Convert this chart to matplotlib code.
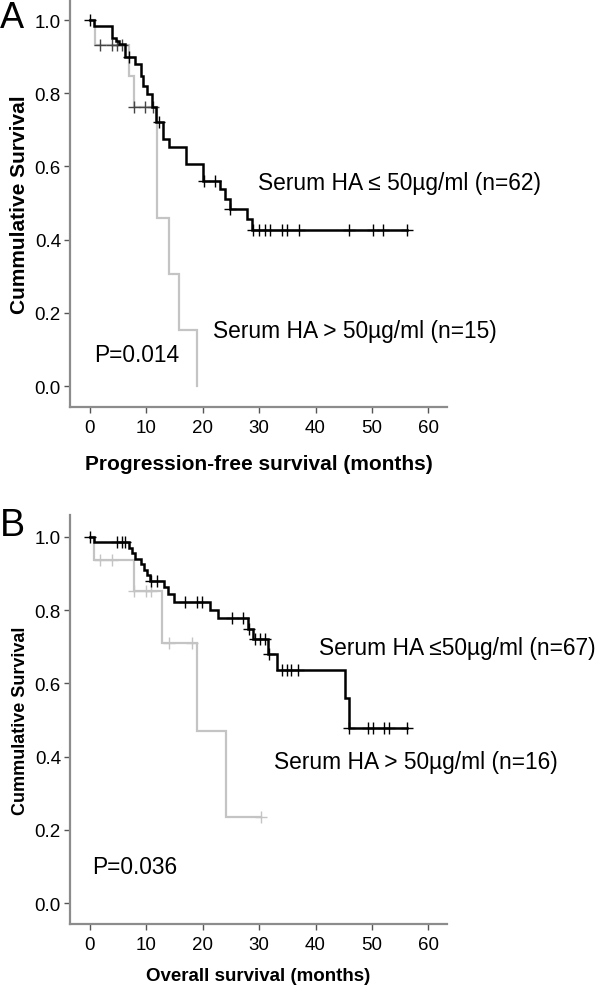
import numpy as np
import matplotlib
matplotlib.use('Agg')
import matplotlib.pyplot as plt

plt.rcParams['font.family'] = ['Liberation Sans', 'DejaVu Sans']

# Panel A - progression-free survival
pfs_low_t = [0, 0.8, 4.0, 4.6, 5.2, 6.3, 8.1, 9.0, 9.5, 10.2, 11.1, 11.8, 13.0, 14.0, 17.0, 20.0, 23.1, 24.0, 24.9, 27.8, 28.7]
pfs_low_s = [1.0, 0.984, 0.952, 0.944, 0.935, 0.898, 0.880, 0.848, 0.820, 0.798, 0.762, 0.721, 0.675, 0.652, 0.607, 0.561, 0.538, 0.511, 0.484, 0.456, 0.427]
pfs_low_end = 56.3
pfs_low_cens = [0.1, 6.9, 12.2, 20.2, 22.2, 24.9, 29.0, 30.0, 31.0, 32.0, 34.0, 35.0, 37.1, 46.0, 50.1, 52.0, 56.3]

pfs_high_t = [0, 1.0, 7.0, 7.8, 12.0, 14.0, 15.9, 19.0]
pfs_high_s = [1.0, 0.933, 0.848, 0.762, 0.458, 0.305, 0.153, 0.0]
pfs_high_end = 19.0
pfs_high_cens = [1.9, 4.0, 4.9, 5.8, 7.8, 9.8, 11.2]

# Panel B - overall survival
os_low_t = [0, 0.76, 6.9, 7.5, 8.1, 9.1, 9.6, 10.2, 10.7, 13.1, 13.8, 14.9, 21.3, 22.8, 28.1, 28.9, 31.5, 33.1, 45.2, 46.0]
os_low_s = [1.0, 0.985, 0.970, 0.955, 0.940, 0.925, 0.910, 0.895, 0.880, 0.862, 0.843, 0.823, 0.800, 0.778, 0.750, 0.722, 0.681, 0.638, 0.561, 0.478]
os_low_end = 56.3
os_low_cens = [0.1, 4.9, 5.8, 6.3, 10.8, 11.9, 16.9, 19.0, 19.9, 25.2, 27.2, 28.3, 29.3, 30.2, 31.0, 31.7,
               34.0, 34.9, 35.7, 36.9, 46.0, 49.3, 50.1, 52.2, 53.1, 56.3]

os_high_t = [0, 0.76, 7.8, 12.8, 19.0, 24.2]
os_high_s = [1.0, 0.9375, 0.852, 0.71, 0.47, 0.235]
os_high_end = 30.3
os_high_cens = [1.9, 4.0, 7.9, 9.9, 10.8, 14.0, 18.1, 30.3]

xticks = [0, 10, 20, 30, 40, 50, 60]
yticks = [0.0, 0.2, 0.4, 0.6, 0.8, 1.0]

BLACK = '#000000'
GREY = '#c4c4c4'
SPINE = '#8c8c8c'


def km(ax, t, s, end, cens, color, lw, ccolor):
    xs = list(t) + [end]
    ys = list(s) + [s[-1]]
    ax.step(xs, ys, where='post', color=color, lw=lw, solid_joinstyle='miter')
    idx = np.searchsorted(t, cens, side='right') - 1
    cy = np.array(s)[idx]
    ax.plot(cens, cy, ls='none', marker='+', ms=8, mew=1.0, color=ccolor)


def style(ax, ylim_top, ylab_size, xlab, xlab_size, xlab_y):
    ax.set_xlim(-3.5, 63.3)
    ax.set_ylim(-0.057, ylim_top)
    ax.set_xticks(xticks)
    ax.set_yticks(yticks)
    ax.set_yticklabels(['%.1f' % v for v in yticks])
    for side in ['top', 'right']:
        ax.spines[side].set_visible(False)
    for side in ['left', 'bottom']:
        ax.spines[side].set_color(SPINE)
        ax.spines[side].set_linewidth(1.6)
    ax.tick_params(axis='both', direction='out', length=4.5, width=1.0, color='#555555',
                   labelsize=13.5, pad=2)
    ax.tick_params(axis='x', pad=4)
    ax.set_ylabel('Cummulative Survival', fontsize=ylab_size, fontweight='bold')
    ax.yaxis.set_label_coords(-0.11, 0.5)
    ax.set_xlabel(xlab, fontsize=xlab_size, fontweight='bold')
    ax.xaxis.label.set_va('center')
    ax.xaxis.set_label_coords(0.5, xlab_y)


fig = plt.figure(figsize=(6, 9.87), dpi=100)

# Panel A
axA = fig.add_axes([70 / 600, 1 - 408 / 987, 377 / 600, 406 / 987])
km(axA, pfs_high_t, pfs_high_s, pfs_high_end, pfs_high_cens, GREY, 1.6, '#444444')
km(axA, pfs_low_t, pfs_low_s, pfs_low_end, pfs_low_cens, BLACK, 1.8, BLACK)
style(axA, 1.052, 15, 'Progression-free survival (months)', 15, -0.14)
axA.text(29.8, 0.557, 'Serum HA \u2264 50\u00b5g/ml (n=62)', fontsize=16.4, va='center', ha='left')
axA.text(21.9, 0.151, 'Serum HA > 50\u00b5g/ml (n=15)', fontsize=16.4, va='center', ha='left')
axA.text(0.7, 0.087, 'P=0.014', fontsize=16.4, va='center', ha='left')

# Panel B
axB = fig.add_axes([70 / 600, 1 - 925 / 987, 377 / 600, 409 / 987])
km(axB, os_high_t, os_high_s, os_high_end, os_high_cens, GREY, 1.6, GREY)
km(axB, os_low_t, os_low_s, os_low_end, os_low_cens, BLACK, 1.8, BLACK)
style(axB, 1.06, 13, 'Overall survival (months)', 13.5, -0.127)
axB.text(40.7, 0.698, 'Serum HA \u226450\u00b5g/ml (n=67)', fontsize=16.4, va='center', ha='left')
axB.text(32.6, 0.388, 'Serum HA > 50\u00b5g/ml (n=16)', fontsize=16.4, va='center', ha='left')
axB.text(0.4, 0.1, 'P=0.036', fontsize=16.4, va='center', ha='left')

# Panel letters
fig.text(0.0, 1 - 1 / 987, 'A', fontsize=26, va='top', ha='left')
fig.text(0.0, 1 - 508 / 987, 'B', fontsize=27, va='top', ha='left')

fig.savefig('out.png', dpi=100)
